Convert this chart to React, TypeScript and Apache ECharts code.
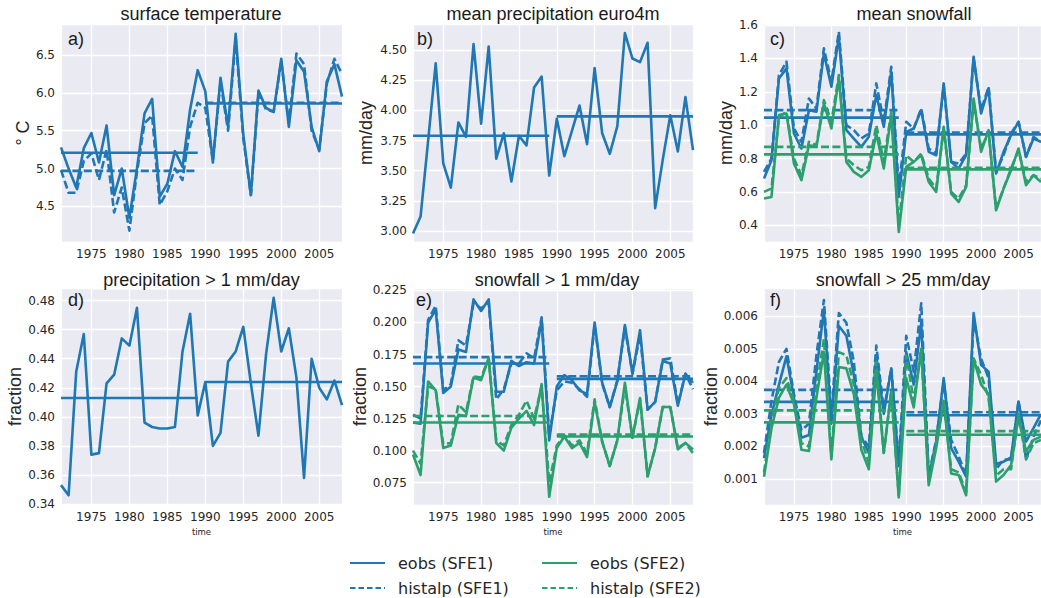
import { useEffect, useRef } from "react";
import * as echarts from "echarts";

// ---------- data ----------
const years = [
  1971, 1972, 1973, 1974, 1975, 1976, 1977, 1978, 1979, 1980,
  1981, 1982, 1983, 1984, 1985, 1986, 1987, 1988, 1989, 1990,
  1991, 1992, 1993, 1994, 1995, 1996, 1997, 1998, 1999, 2000,
  2001, 2002, 2003, 2004, 2005, 2006, 2007, 2008,
];

// averaging periods (first, second)
const periods = [
  [1971, 1989],
  [1990, 2008],
];

// a) surface temperature (°C)
const tempEobs = [
  5.28, 5.0, 4.75, 5.27, 5.47, 5.08, 5.57, 4.65, 5.0, 4.35,
  5.0, 5.73, 5.92, 4.63, 4.8, 5.23, 5.02, 5.78, 6.3, 6.02,
  5.08, 6.2, 5.55, 6.78, 5.45, 4.65, 6.03, 5.8, 5.75, 6.45,
  5.55, 6.43, 6.28, 5.55, 5.23, 6.15, 6.38, 5.95,
];
const tempHistalp = [
  4.98, 4.68, 4.68, 5.1, 5.2, 4.85, 5.25, 4.42, 4.75, 4.18,
  4.95, 5.6, 5.7, 4.52, 4.7, 5.0, 4.85, 5.55, 5.87, 5.8,
  5.1, 6.15, 5.5, 6.72, 5.4, 4.65, 6.0, 5.78, 5.75, 6.42,
  5.6, 6.52, 6.38, 5.5, 5.25, 6.12, 6.45, 6.25,
];
const tempEobsMeans = [5.21, 5.86];
const tempHistalpMeans = [4.97, 5.87];

// b) mean precipitation euro4m (mm/day)
const precipEuro4m = [
  2.98, 3.12, 3.75, 4.39, 3.56, 3.36, 3.9, 3.78, 4.55, 3.89,
  4.53, 3.6, 3.81, 3.41, 3.79, 3.71, 4.19, 4.28, 3.46, 3.93,
  3.62, 3.83, 4.04, 3.72, 4.35, 3.81, 3.64, 3.87, 4.64, 4.43,
  4.4, 4.56, 3.19, 3.59, 3.96, 3.66, 4.11, 3.67,
];
const precipMeans = [3.79, 3.95];

// c) mean snowfall (mm/day)
const snowEobs1 = [
  0.68, 0.79, 1.28, 1.34, 0.95, 0.86, 1.09, 1.08, 1.43, 1.23,
  1.53, 0.97, 0.92, 0.87, 0.93, 1.18, 0.99, 1.32, 0.57, 0.96,
  0.98, 1.09, 0.84, 0.82, 1.25, 0.78, 0.74, 0.82, 1.41, 1.07,
  1.22, 0.71, 0.84, 0.94, 1.02, 0.81, 0.92, 0.9,
];
const snowHistalp1 = [
  0.72, 0.8, 1.3, 1.38, 0.98, 0.9, 1.16, 1.1, 1.46, 1.26,
  1.56, 1.0, 0.97, 0.92, 0.95, 1.25, 1.02, 1.35, 0.62, 1.02,
  0.98, 1.1, 0.86, 0.83, 1.24, 0.78, 0.77, 0.83, 1.4, 1.09,
  1.23, 0.72, 0.82, 0.95, 1.02, 0.81, 0.93, 0.9,
];
const snowEobs2 = [
  0.56, 0.57, 1.06, 1.07, 0.77, 0.67, 0.88, 0.87, 1.13, 0.98,
  1.28, 0.78, 0.72, 0.69, 0.73, 0.95, 0.74, 1.06, 0.36, 0.75,
  0.78, 0.82, 0.66, 0.6, 0.99, 0.59, 0.54, 0.63, 1.16, 0.84,
  0.97, 0.49, 0.62, 0.73, 0.86, 0.64, 0.7, 0.66,
];
const snowHistalp2 = [
  0.6, 0.62, 1.05, 1.08, 0.8, 0.7, 0.9, 0.88, 1.15, 1.02,
  1.3, 0.8, 0.76, 0.73, 0.75, 1.0, 0.78, 1.08, 0.4, 0.82,
  0.78, 0.83, 0.68, 0.62, 0.98, 0.6, 0.56, 0.64, 1.14, 0.86,
  0.96, 0.5, 0.62, 0.74, 0.85, 0.66, 0.7, 0.68,
];
const snowEobs1Means = [1.045, 0.945];
const snowHistalp1Means = [1.09, 0.955];
const snowEobs2Means = [0.825, 0.735];
const snowHistalp2Means = [0.87, 0.745];

// d) fraction of days with precipitation > 1 mm/day
const wetFraction = [
  0.353, 0.346, 0.431, 0.457, 0.374, 0.375, 0.423, 0.429, 0.454, 0.449,
  0.475, 0.396, 0.393, 0.392, 0.392, 0.393, 0.445, 0.471, 0.401, 0.424,
  0.38, 0.389, 0.438, 0.445, 0.462, 0.423, 0.387, 0.443, 0.482, 0.445,
  0.461, 0.427, 0.358, 0.44, 0.42, 0.412, 0.425, 0.408,
];
const wetFractionMeans = [0.413, 0.424];

// e) fraction of days with snowfall > 1 mm/day
const snow1Eobs1 = [
  0.122, 0.121, 0.2, 0.21, 0.145, 0.15, 0.179, 0.177, 0.218, 0.209,
  0.218, 0.146, 0.146, 0.17, 0.166, 0.169, 0.168, 0.202, 0.108, 0.15,
  0.159, 0.155, 0.147, 0.144, 0.2, 0.153, 0.134, 0.154, 0.198, 0.16,
  0.194, 0.132, 0.138, 0.17, 0.168, 0.135, 0.16, 0.153,
];
const snow1Histalp1 = [
  0.128, 0.125, 0.202, 0.213, 0.147, 0.152, 0.186, 0.182, 0.215, 0.211,
  0.216, 0.14, 0.148, 0.168, 0.168, 0.176, 0.172, 0.204, 0.112, 0.147,
  0.154, 0.153, 0.148, 0.142, 0.198, 0.152, 0.134, 0.155, 0.196, 0.16,
  0.19, 0.132, 0.138, 0.171, 0.172, 0.136, 0.16, 0.148,
];
const snow1Eobs2 = [
  0.097, 0.081, 0.154, 0.147, 0.102, 0.104, 0.128, 0.127, 0.157, 0.155,
  0.172, 0.106, 0.1, 0.118, 0.125, 0.131, 0.12, 0.152, 0.064, 0.102,
  0.111, 0.102, 0.106, 0.095, 0.138, 0.107, 0.088, 0.108, 0.153, 0.11,
  0.141, 0.08, 0.102, 0.134, 0.134, 0.101, 0.106, 0.101,
];
const snow1Histalp2 = [
  0.1, 0.09, 0.15, 0.148, 0.105, 0.106, 0.136, 0.13, 0.158, 0.157,
  0.172, 0.108, 0.104, 0.12, 0.128, 0.139, 0.125, 0.15, 0.075, 0.104,
  0.112, 0.104, 0.108, 0.098, 0.14, 0.107, 0.088, 0.108, 0.15, 0.11,
  0.14, 0.08, 0.102, 0.134, 0.134, 0.102, 0.106, 0.098,
];
const snow1Eobs1Means = [0.168, 0.156];
const snow1Histalp1Means = [0.173, 0.158];
const snow1Eobs2Means = [0.122, 0.111];
const snow1Histalp2Means = [0.127, 0.1125];

// f) fraction of days with snowfall > 25 mm/day
const snow25Eobs1 = [
  0.00164, 0.00297, 0.0039, 0.00477, 0.0035, 0.00227, 0.00235, 0.0043, 0.0062, 0.0027,
  0.0057, 0.0054, 0.0042, 0.0023, 0.0018, 0.0048, 0.003, 0.0044, 0.0014, 0.0049,
  0.0039, 0.0058, 0.00107, 0.00215, 0.0041, 0.00195, 0.00153, 0.00107, 0.0061, 0.0045,
  0.0043, 0.00146, 0.00153, 0.00166, 0.00338, 0.00215, 0.00256, 0.003,
];
const snow25Histalp1 = [
  0.0018, 0.0034, 0.0046, 0.005, 0.0036, 0.0025, 0.0027, 0.0048, 0.0065, 0.003,
  0.0061, 0.0058, 0.0046, 0.0023, 0.002, 0.0051, 0.0031, 0.0044, 0.0015, 0.0054,
  0.0043, 0.0064, 0.0011, 0.0022, 0.004, 0.0022, 0.0017, 0.0011, 0.0059, 0.0047,
  0.0041, 0.0013, 0.0016, 0.0016, 0.0034, 0.0016, 0.0023, 0.0028,
];
const snow25Eobs2 = [
  0.00107, 0.00256, 0.0035, 0.0039, 0.0033, 0.0019, 0.00186, 0.0035, 0.0049, 0.0016,
  0.00444, 0.0044, 0.0036, 0.0019, 0.0013, 0.0043, 0.0018, 0.0037, 0.00043, 0.0041,
  0.0032, 0.005, 0.00081, 0.00195, 0.0034, 0.00117, 0.00112, 0.0005, 0.0047, 0.0039,
  0.0036, 0.00092, 0.00112, 0.00143, 0.0029, 0.00185, 0.0022, 0.0023,
];
const snow25Histalp2 = [
  0.0012, 0.0028, 0.0038, 0.0041, 0.0034, 0.0021, 0.002, 0.0038, 0.0053, 0.0017,
  0.0049, 0.0048, 0.0039, 0.0022, 0.0015, 0.0046, 0.0018, 0.0037, 0.0005, 0.0048,
  0.0034, 0.005, 0.0009, 0.0021, 0.0034, 0.0013, 0.0012, 0.0006, 0.0047, 0.0042,
  0.0035, 0.0011, 0.0013, 0.0013, 0.003, 0.0016, 0.0021, 0.0022,
];
const snow25Eobs1Means = [0.00337, 0.00296];
const snow25Histalp1Means = [0.00374, 0.00305];
const snow25Eobs2Means = [0.00274, 0.00236];
const snow25Histalp2Means = [0.00311, 0.00247];

// ---------- styling ----------
const BLUE = "#1f77b4";
const GREEN = "#2aa06e";
const TEXT = "#262626";
const PANEL_BG = "#eaeaf2";
const DASH = [8, 3.4];
const LINE_W = 2.6;

type Line = { name: string; values: number[]; means: number[]; color: string; dashed: boolean };
type Panel = {
  title: string;
  tag: string;
  yName: string;
  yMin: number;
  yMax: number;
  yStep: number;
  decimals: number;
  lines: Line[];
};

const SFE1 = "eobs (SFE1)";
const SFE1H = "histalp (SFE1)";
const SFE2 = "eobs (SFE2)";
const SFE2H = "histalp (SFE2)";

// legend entries, column by column
const legendColumns = [
  [
    { name: SFE1, color: BLUE, dashed: false },
    { name: SFE1H, color: BLUE, dashed: true },
  ],
  [
    { name: SFE2, color: GREEN, dashed: false },
    { name: SFE2H, color: GREEN, dashed: true },
  ],
];

const fourLines = (
  e1: number[], h1: number[], e2: number[], h2: number[],
  me1: number[], mh1: number[], me2: number[], mh2: number[]
): Line[] => [
  { name: SFE1, values: e1, means: me1, color: BLUE, dashed: false },
  { name: SFE1H, values: h1, means: mh1, color: BLUE, dashed: true },
  { name: SFE2, values: e2, means: me2, color: GREEN, dashed: false },
  { name: SFE2H, values: h2, means: mh2, color: GREEN, dashed: true },
];

const panels: Panel[] = [
  {
    title: "surface temperature", tag: "a)", yName: "\u00b0 C",
    yMin: 4.03, yMax: 6.91, yStep: 0.5, decimals: 1,
    lines: [
      { name: SFE1, values: tempEobs, means: tempEobsMeans, color: BLUE, dashed: false },
      { name: SFE1H, values: tempHistalp, means: tempHistalpMeans, color: BLUE, dashed: true },
    ],
  },
  {
    title: "mean precipitation euro4m", tag: "b)", yName: "mm/day",
    yMin: 2.909, yMax: 4.716, yStep: 0.25, decimals: 2,
    lines: [{ name: "euro4m", values: precipEuro4m, means: precipMeans, color: BLUE, dashed: false }],
  },
  {
    title: "mean snowfall", tag: "c)", yName: "mm/day",
    yMin: 0.3, yMax: 1.606, yStep: 0.2, decimals: 1,
    lines: fourLines(snowEobs1, snowHistalp1, snowEobs2, snowHistalp2,
      snowEobs1Means, snowHistalp1Means, snowEobs2Means, snowHistalp2Means),
  },
  {
    title: "precipitation > 1 mm/day", tag: "d)", yName: "fraction",
    yMin: 0.3393, yMax: 0.4887, yStep: 0.02, decimals: 2,
    lines: [{ name: "euro4m", values: wetFraction, means: wetFractionMeans, color: BLUE, dashed: false }],
  },
  {
    title: "snowfall > 1 mm/day", tag: "e)", yName: "fraction",
    yMin: 0.0576, yMax: 0.2269, yStep: 0.025, decimals: 3,
    lines: fourLines(snow1Eobs1, snow1Histalp1, snow1Eobs2, snow1Histalp2,
      snow1Eobs1Means, snow1Histalp1Means, snow1Eobs2Means, snow1Histalp2Means),
  },
  {
    title: "snowfall > 25 mm/day", tag: "f)", yName: "fraction",
    yMin: 0.0002, yMax: 0.00687, yStep: 0.001, decimals: 3,
    lines: fourLines(snow25Eobs1, snow25Histalp1, snow25Eobs2, snow25Histalp2,
      snow25Eobs1Means, snow25Histalp1Means, snow25Eobs2Means, snow25Histalp2Means),
  },
];

// ---------- layout ----------
const grids = [
  { left: 61, top: 24, width: 281, height: 218 },
  { left: 413, top: 24, width: 280, height: 218 },
  { left: 764, top: 24, width: 280, height: 218 },
  { left: 61, top: 288, width: 281, height: 217 },
  { left: 413, top: 288, width: 280, height: 217 },
  { left: 764, top: 288, width: 280, height: 217 },
];
const yNameGaps = [21, 38, 29, 35, 41, 42];
const titlePos = [
  { x: 201, y: 13.5 },
  { x: 553, y: 13.5 },
  { x: 914, y: 13.5 },
  { x: 201.5, y: 280 },
  { x: 557, y: 280 },
  { x: 903, y: 280 },
];
// white boxes behind the lower titles
const titleBoxes = [
  { x: 93, w: 217 },
  { x: 460, w: 205 },
  { x: 807, w: 199 },
];
const tagPos = [
  { x: 68, y: 39 },
  { x: 417, y: 39 },
  { x: 770, y: 39 },
  { x: 68, y: 300 },
  { x: 416, y: 300 },
  { x: 770, y: 300 },
];
const legendLeft = [350, 542];
const legendRowY = [563, 588];

function buildOption() {
  const series: any[] = [];
  panels.forEach((p, i) => {
    p.lines.forEach((ln, k) => {
      const lineStyle = {
        color: ln.color,
        width: LINE_W,
        type: ln.dashed ? DASH : "solid",
        cap: "butt",
        join: "round",
      };
      series.push({
        type: "line",
        name: ln.name,
        xAxisIndex: i,
        yAxisIndex: i,
        symbol: "none",
        silent: true,
        z: 2 + k,
        itemStyle: { color: ln.color },
        lineStyle,
        data: years.map((yr, j) => [yr, ln.values[j]]),
      });
      periods.forEach((per, m) => {
        series.push({
          type: "line",
          name: ln.name,
          xAxisIndex: i,
          yAxisIndex: i,
          symbol: "none",
          silent: true,
          z: 2 + k,
          itemStyle: { color: ln.color },
          lineStyle,
          data: [
            [per[0], ln.means[m]],
            [per[1], ln.means[m]],
          ],
        });
      });
    });
  });

  const graphicEls: any[] = [];
  titleBoxes.forEach((b) => {
    graphicEls.push({
      type: "rect",
      z: 50,
      shape: { x: b.x, y: 268, width: b.w, height: 21.5 },
      style: { fill: "#ffffff" },
    });
  });
  panels.forEach((p, i) => {
    graphicEls.push({
      type: "text",
      z: 51,
      x: titlePos[i].x,
      y: titlePos[i].y,
      style: {
        text: p.title,
        fontSize: 18,
        fontFamily: "Liberation Sans",
        fill: "#1a1a1a",
        align: "center",
        verticalAlign: "middle",
      },
    });
    graphicEls.push({
      type: "text",
      z: 51,
      x: tagPos[i].x,
      y: tagPos[i].y,
      style: {
        text: p.tag,
        fontSize: 18,
        fontFamily: "Liberation Sans",
        fill: "#1a1a1a",
        align: "left",
        verticalAlign: "middle",
      },
    });
  });

  // legend: two columns of line samples with labels
  legendColumns.forEach((col, c) => {
    col.forEach((item, r) => {
      const x0 = legendLeft[c];
      const y = legendRowY[r];
      graphicEls.push({
        type: "line",
        z: 51,
        shape: { x1: x0, y1: y, x2: x0 + 35, y2: y },
        style: {
          stroke: item.color,
          lineWidth: 2.2,
          lineDash: item.dashed ? [5.5, 3] : null,
        },
      });
      graphicEls.push({
        type: "text",
        z: 51,
        x: x0 + 48,
        y,
        style: {
          text: item.name,
          fontSize: 16,
          fontFamily: "DejaVu Sans",
          fill: TEXT,
          align: "left",
          verticalAlign: "middle",
        },
      });
    });
  });

  return {
    animation: false,
    backgroundColor: "#ffffff",
    grid: grids.map((g) => ({
      ...g,
      show: true,
      backgroundColor: PANEL_BG,
      borderWidth: 0,
    })),
    xAxis: grids.map((_, i) => ({
      type: "value",
      gridIndex: i,
      min: 1971,
      max: 2008,
      splitNumber: 7,
      minInterval: 5,
      maxInterval: 5,
      axisLine: { show: false },
      axisTick: { show: false },
      axisLabel: {
        showMinLabel: false,
        showMaxLabel: false,
        margin: 6,
        color: TEXT,
        fontFamily: "DejaVu Sans",
        fontSize: 12,
        formatter: (v: number) => String(v),
      },
      splitLine: { show: true, lineStyle: { color: "#ffffff", width: 1.3 } },
      name: i >= 3 ? "time" : "",
      nameLocation: "middle",
      nameGap: 22,
      nameTextStyle: { color: TEXT, fontFamily: "DejaVu Sans", fontSize: 8.5 },
    })),
    yAxis: panels.map((p, i) => ({
      type: "value",
      gridIndex: i,
      min: p.yMin,
      max: p.yMax,
      splitNumber: Math.round((p.yMax - p.yMin) / p.yStep),
      minInterval: p.yStep,
      maxInterval: p.yStep,
      axisLine: { show: false },
      axisTick: { show: false },
      axisLabel: {
        showMinLabel: false,
        showMaxLabel: false,
        margin: 6,
        color: TEXT,
        fontFamily: "DejaVu Sans",
        fontSize: 12,
        formatter: (v: number) => v.toFixed(p.decimals),
      },
      splitLine: { show: true, lineStyle: { color: "#ffffff", width: 1.3 } },
      name: p.yName,
      nameLocation: "middle",
      nameGap: yNameGaps[i],
      nameTextStyle: { color: TEXT, fontFamily: "Liberation Sans", fontSize: 18 },
    })),
    graphic: { elements: graphicEls },
    series,
  };
}

export default function App() {
  const ref = useRef<HTMLDivElement>(null);
  useEffect(() => {
    if (!ref.current) return;
    const chart = echarts.init(ref.current, undefined, { renderer: "svg" });
    chart.setOption(buildOption() as any);
    return () => chart.dispose();
  }, []);
  return (
    <div
      ref={ref}
      style={{ position: "absolute", left: 0, top: 0, width: 1041, height: 598, background: "#fff" }}
    />
  );
}
